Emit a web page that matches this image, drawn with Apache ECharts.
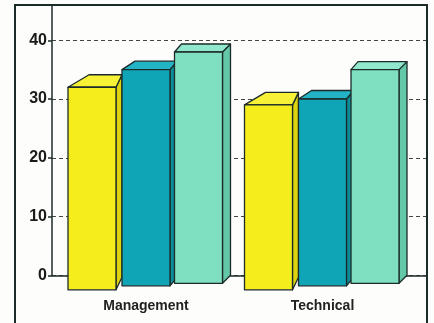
<!DOCTYPE html>
<html>
<head>
<meta charset="utf-8">
<script src="https://cdn.jsdelivr.net/npm/echarts@6/dist/echarts.min.js"></script>
<style>
  html, body { margin: 0; padding: 0; background: #fdfdfb; }
  #chart { width: 434px; height: 323px; }
</style>
</head>
<body>
<div id="chart"></div>
<script>
// Categories and values (percent), one array per coloured series
const categories = ['Management', 'Technical'];
const seriesYellow = [32, 29];
const seriesTeal = [35, 30];
const seriesMint = [38, 35];
const yTicks = [0, 10, 20, 30, 40];

const seriesValues = [seriesYellow, seriesTeal, seriesMint];

// Box styling: front / top / side colours and the pseudo-perspective offsets
const boxStyles = [
  { front: '#f6ee1c', top: '#f8f236', side: '#ddd40e', offset: -54, dxL: 21, dxR: 6, dy: 12.5, drop: 14.5 },
  { front: '#0fa5b6', top: '#22b4c4', side: '#0b8c9a', offset: 0, dxL: 13, dxR: 7, dy: 8.5, drop: 10.5 },
  { front: '#7fe0c1', top: '#92e8cc', side: '#63c8a8', offset: 52.5, dxL: 7, dxR: 8, dy: 8, drop: 8 }
];
const BAR_W = 48;
const INK = '#1c2b2a';
const FONT = '"Liberation Sans", Arial, Helvetica, sans-serif';

function renderBox(params, api) {
  const st = boxStyles[params.seriesIndex];
  const top = api.coord([api.value(0), api.value(1)]);
  const base = api.coord([api.value(0), 0]);
  const x0 = top[0] + st.offset - BAR_W / 2;
  const x1 = x0 + BAR_W;
  const yT = top[1];
  const yB = base[1] + st.drop;
  const line = { stroke: INK, lineWidth: 1.3, lineJoin: 'round' };
  return {
    type: 'group',
    children: [
      {
        type: 'polygon',
        shape: { points: [[x1, yT], [x1 + st.dxR, yT - st.dy], [x1 + st.dxR, yB - st.dy], [x1, yB]] },
        style: Object.assign({ fill: st.side }, line)
      },
      {
        type: 'polygon',
        shape: { points: [[x0, yT], [x1, yT], [x1 + st.dxR, yT - st.dy], [x0 + st.dxL, yT - st.dy]] },
        style: Object.assign({ fill: st.top }, line)
      },
      {
        type: 'rect',
        shape: { x: x0, y: yT, width: BAR_W, height: yB - yT },
        style: Object.assign({ fill: st.front }, line)
      }
    ]
  };
}

const chart = echarts.init(document.getElementById('chart'), null, { renderer: 'canvas' });

const gridTop = 5;
const gridBottom = 47.7;
const yMax = 46;

chart.setOption({
  backgroundColor: '#fdfdfb',
  animation: false,
  graphic: [
    {
      type: 'rect',
      shape: { x: 15, y: 5, width: 412, height: 330 },
      style: { fill: 'none', stroke: INK, lineWidth: 2 },
      z: 100
    }
  ],
  grid: [
    // back wall with scale and dashed guides
    { left: 52, right: 7, top: gridTop, bottom: gridBottom },
    // bar placement
    { left: 57.75, width: 353, top: gridTop, bottom: gridBottom }
  ],
  xAxis: [
    {
      gridIndex: 0, type: 'value', min: 0, max: 1,
      axisLine: { show: true, lineStyle: { color: INK, width: 1.5 } },
      axisTick: { show: false }, axisLabel: { show: false }, splitLine: { show: false }
    },
    {
      gridIndex: 1, type: 'category', data: categories,
      axisLine: { show: false }, axisTick: { show: false },
      axisLabel: { margin: 24, color: '#222', fontSize: 14, fontWeight: 'bold', fontFamily: FONT }
    }
  ],
  yAxis: [
    {
      gridIndex: 0, type: 'value', min: yTicks[0], max: yMax, interval: 10,
      axisLine: { show: true, lineStyle: { color: INK, width: 1.5 } },
      axisTick: { show: true, length: 4, lineStyle: { color: INK, width: 1.5 } },
      axisLabel: {
        showMaxLabel: false, margin: 5, color: '#1a1a1a', fontSize: 16, fontWeight: 'bold', fontFamily: FONT,
        formatter: v => (yTicks.indexOf(v) >= 0 ? String(v) : '')
      },
      splitLine: { show: true, lineStyle: { color: '#444', width: 1, type: [4, 3] } }
    },
    {
      gridIndex: 1, type: 'value', min: yTicks[0], max: yMax, show: false
    }
  ],
  series: seriesValues.map((vals, s) => ({
    type: 'custom',
    xAxisIndex: 1,
    yAxisIndex: 1,
    clip: false,
    renderItem: renderBox,
    encode: { x: 0, y: 1 },
    data: vals.map((v, i) => [i, v]),
    z: 10 + s
  }))
});
</script>
</body>
</html>
